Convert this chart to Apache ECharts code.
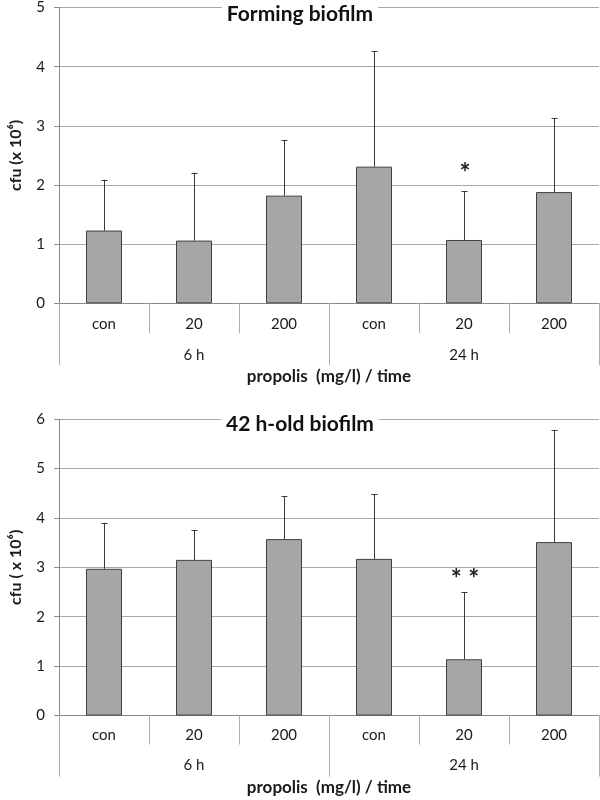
<!DOCTYPE html>
<html><head><meta charset="utf-8">
<script src="https://cdn.jsdelivr.net/npm/echarts@6/dist/echarts.min.js"></script>
<style>html,body{margin:0;padding:0;background:#fff}#c{width:600px;height:800px}</style>
</head><body><div id="c"></div>
<script>
const categories = ['con', '20', '200', 'con', '20', '200'];
const groups = ['6 h', '24 h'];
const formingMean = [1.23, 1.06, 1.82, 2.31, 1.07, 1.88];
const formingUpper = [2.09, 2.21, 2.76, 4.26, 1.89, 3.13];
const formingMarks = ['', '', '', '', '*', ''];
const oldMean = [2.97, 3.15, 3.57, 3.17, 1.14, 3.51];
const oldUpper = [3.90, 3.75, 4.44, 4.48, 2.50, 5.78];
const oldMarks = ['', '', '', '', '* *', ''];
const yMax1 = 5, yMax2 = 6;
const title1 = 'Forming biofilm', title2 = '42 h-old biofilm';
const yName1 = 'cfu (x 10\u2076)', yName2 = 'cfu ( x 10\u2076)';
const xName = 'propolis  (mg/l) / time';

const FONT = 'Lato';
const TXT = '#1a1a1a';

function errItem(params, api) {
  const i = api.value(0);
  const p0 = api.coord([i, api.value(1)]);
  const p1 = api.coord([i, api.value(2)]);
  const x = Math.round(p0[0]) + 0.5;
  const st = { stroke: '#3a3a3a', lineWidth: 1 };
  return { type: 'group', children: [
    { type: 'line', shape: { x1: x, y1: p0[1], x2: x, y2: p1[1] }, style: st },
    { type: 'line', shape: { x1: x - 3, y1: Math.round(p1[1]) + 0.5, x2: x + 3, y2: Math.round(p1[1]) + 0.5 }, style: st }
  ]};
}
function markItem(params, api) {
  const i = api.value(0);
  const p = api.coord([i, api.value(1)]);
  const top = params.seriesIndex === 2;
  const txt = (top ? formingMarks : oldMarks)[params.dataIndex];
  return { type: 'text', style: { text: txt, x: p[0] + 1, y: p[1] - (top ? 18 : 12), align: 'center', verticalAlign: 'middle',
    font: 'bold 26px ' + FONT, fill: '#222' } };
}

const grids = [
  { left: 55, width: 544, top: 6, height: 297.3 },
  { left: 55, width: 544, top: 419, height: 296.6 }
];
function xAxes(g, m1, m2, tl1, tl2, gap) {
  return [
    { type: 'category', gridIndex: g, data: categories, position: 'bottom',
      axisLine: { show: true, lineStyle: { color: '#8a8a8a' } },
      axisTick: { show: true, alignWithLabel: false, length: tl1, lineStyle: { color: '#b0b0b0' } },
      axisLabel: { margin: m1, fontSize: 15, color: TXT, fontFamily: FONT } },
    { type: 'category', gridIndex: g, data: groups, position: 'bottom',
      axisLine: { show: false },
      axisTick: { show: true, alignWithLabel: false, length: tl2, lineStyle: { color: '#b0b0b0' } },
      axisLabel: { margin: m2, fontSize: 15, color: TXT, fontFamily: FONT },
      name: xName, nameLocation: 'middle', nameGap: gap,
      nameTextStyle: { fontSize: 17, fontWeight: 'bold', color: TXT, fontFamily: FONT } }
  ];
}
function yAxis(g, max, name) {
  return { type: 'value', gridIndex: g, min: 0, max: max, interval: 1,
    axisLine: { show: true, lineStyle: { color: '#8a8a8a' } },
    axisTick: { show: true, length: 5, lineStyle: { color: '#8a8a8a' } },
    splitLine: { show: true, lineStyle: { color: '#a8a8a8' } },
    axisLabel: { margin: 14, fontSize: 15, color: TXT, fontFamily: FONT },
    name: name, nameLocation: 'middle', nameGap: 35,
    nameTextStyle: { fontSize: 16, fontWeight: 'bold', color: TXT, fontFamily: FONT } };
}
const barStyle = { color: '#a6a6a6', borderColor: '#404040', borderWidth: 1 };

const option = {
  animation: false,
  backgroundColor: '#fff',
  title: [
    { text: title1, left: 'center', top: 2, padding: [2, 5],
      backgroundColor: '#fff',
      textStyle: { fontSize: 21, fontWeight: 'bold', color: '#111', fontFamily: FONT } },
    { text: title2, left: 'center', top: 412, padding: [2, 5],
      backgroundColor: '#fff',
      textStyle: { fontSize: 21, fontWeight: 'bold', color: '#111', fontFamily: FONT } }
  ],
  grid: grids,
  xAxis: xAxes(0, 13, 44, 30, 62, 65).concat(xAxes(1, 12, 42, 29, 61, 63)),
  yAxis: [yAxis(0, yMax1, yName1), yAxis(1, yMax2, yName2)],
  series: [
    { type: 'bar', xAxisIndex: 0, yAxisIndex: 0, data: formingMean, barWidth: '40%', itemStyle: barStyle, z: 2 },
    { type: 'custom', xAxisIndex: 0, yAxisIndex: 0, renderItem: errItem, z: 3,
      data: formingMean.map((v, i) => [i, v, formingUpper[i]]) },
    { type: 'custom', xAxisIndex: 0, yAxisIndex: 0, renderItem: markItem, z: 4,
      data: formingUpper.map((v, i) => [i, v]) },
    { type: 'bar', xAxisIndex: 2, yAxisIndex: 1, data: oldMean, barWidth: '40%', itemStyle: barStyle, z: 2 },
    { type: 'custom', xAxisIndex: 2, yAxisIndex: 1, renderItem: errItem, z: 3,
      data: oldMean.map((v, i) => [i, v, oldUpper[i]]) },
    { type: 'custom', xAxisIndex: 2, yAxisIndex: 1, renderItem: markItem, z: 4,
      data: oldUpper.map((v, i) => [i, v]) }
  ]
};
const chart = echarts.init(document.getElementById('c'), null, { renderer: 'canvas' });
chart.setOption(option);
</script>
</body></html>
